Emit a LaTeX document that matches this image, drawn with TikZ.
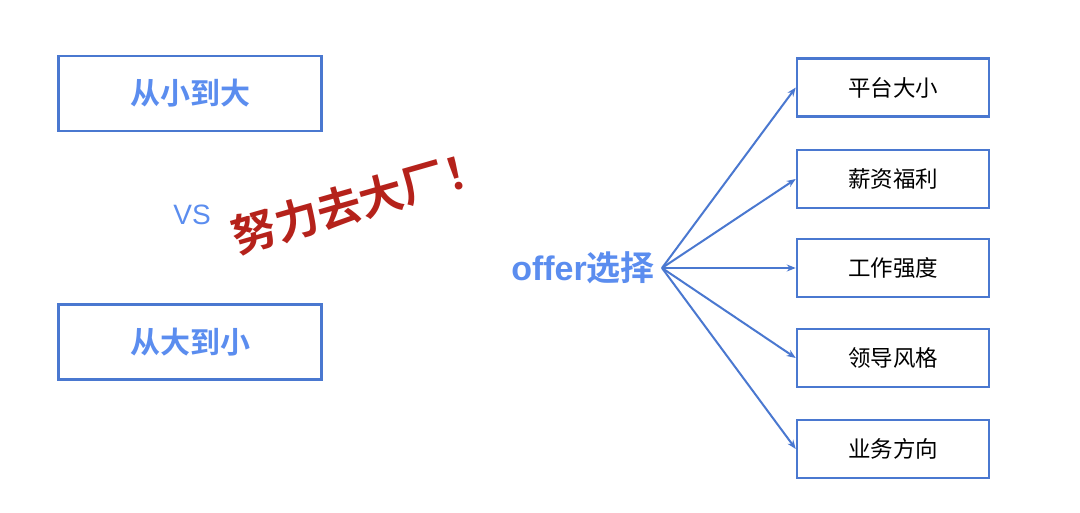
\documentclass[tikz,border=0pt]{standalone}
\usepackage{fontspec}
\setmainfont{Noto Sans CJK SC}
\newfontfamily\cjkb{Noto Sans CJK SC Bold}
\newfontfamily\latn{Liberation Sans}
\usetikzlibrary{arrows.meta}
\definecolor{boxblue}{HTML}{4A78D0}
\definecolor{txtblue}{HTML}{5B8DEF}
\definecolor{bigred}{HTML}{B5221B}
\begin{document}
\begin{tikzpicture}[x=1pt,y=-1pt,
  lbox/.style={draw=boxblue,line width=2.5pt,minimum width=263pt,minimum height=75pt,inner sep=0pt,
     text=txtblue,font=\cjkb\fontsize{30}{32}\selectfont},
  rbox/.style={draw=boxblue,line width=2.5pt,minimum width=192pt,minimum height=58pt,inner sep=0pt,
     text=black,font=\fontsize{22.5}{25}\selectfont},
  conn/.style={draw=boxblue,line width=2pt,-{Stealth[length=9pt,width=7pt]}}]
\useasboundingbox (0,0) rectangle (1080,513);
\fill[white] (0,0) rectangle (1080,513);
\node[lbox] (a) at (190,93.5) {从小到大};
\node[lbox] (b) at (190,342) {从大到小};
\node[text=txtblue,font=\latn\fontsize{28}{30}\selectfont] (vs) at (192,215) {VS};
\node[text=bigred,font=\cjkb\fontsize{44}{48}\selectfont,rotate=16] (slogan) at (360,201) {努力去大厂！};
\node[text=txtblue,font=\cjkb\fontsize{34}{36}\selectfont,anchor=east,inner sep=0pt] (offer) at (655,268) {{\latn\bfseries offer}选择};
\coordinate (o) at (662,268);
\node[rbox] (r1) at (893,87.5) {平台大小};
\node[rbox] (r2) at (893,179) {薪资福利};
\node[rbox] (r3) at (893,268) {工作强度};
\node[rbox] (r4) at (893,358) {领导风格};
\node[rbox] (r5) at (893,449) {业务方向};
\foreach \r in {r1,r2,r3,r4,r5}{
  \draw[conn] (o) -- (\r.west);
}
\end{tikzpicture}
\end{document}
